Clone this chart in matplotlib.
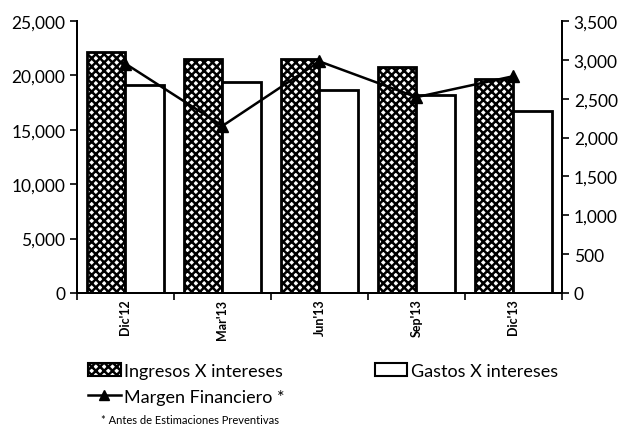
import matplotlib
matplotlib.use("Agg")
import matplotlib.pyplot as plt
import numpy as np
from matplotlib.patches import Patch
from matplotlib.lines import Line2D
from matplotlib.ticker import FuncFormatter

plt.rcParams["font.family"] = ["Lato", "DejaVu Sans"]
plt.rcParams["hatch.linewidth"] = 1.8

periodos = ["Dic'12", "Mar'13", "Jun'13", "Sep'13", "Dic'13"]
ingresos = [22150, 21500, 21550, 20750, 19650]
gastos = [19150, 19350, 18650, 18200, 16700]
margen = [2950, 2150, 2980, 2520, 2790]

fig = plt.figure(figsize=(6.29, 4.27), dpi=100)
ax = fig.add_axes([0.1224, 0.3115, 0.771, 0.637])
ax2 = ax.twinx()

x = np.arange(len(periodos))
w = 0.4
ax.bar(x - w / 2, ingresos, w, facecolor="white", edgecolor="black",
       hatch="xxxx", linewidth=2, zorder=2)
ax.bar(x + w / 2, gastos, w, facecolor="white", edgecolor="black",
       linewidth=2, zorder=2)
ax2.plot(x, margen, color="black", linewidth=1.8, marker="^",
         markersize=9, zorder=3)

ax.set_xlim(-0.5, len(periodos) - 0.5)
ax.set_ylim(0, 25000)
ax2.set_ylim(0, 3500)
ax.set_yticks(np.arange(0, 25001, 5000))
ax2.set_yticks(np.arange(0, 3501, 500))
fmt = FuncFormatter(lambda v, p: f"{v:,.0f}")
ax.yaxis.set_major_formatter(fmt)
ax2.yaxis.set_major_formatter(fmt)

ax.set_xticks(x)
ax.set_xticklabels(periodos, rotation=90, fontsize=9, fontweight="bold")
ax.set_xticks(np.arange(-0.5, len(periodos), 1), minor=True)
ax.tick_params(axis="x", which="major", length=0, pad=4)
ax.tick_params(axis="x", which="minor", length=5, width=1.2, direction="out")
ax.tick_params(axis="y", labelsize=12.5, length=5, width=1.2, direction="out")
ax2.tick_params(axis="y", labelsize=12.5, length=5, width=1.2, direction="out")

for a in (ax, ax2):
    a.spines["top"].set_visible(False)
    for s in ("left", "right", "bottom"):
        a.spines[s].set_linewidth(1.4)

handles = [
    Patch(facecolor="white", edgecolor="black", hatch="xxxx", linewidth=1.5,
          label="Ingresos X intereses"),
    Line2D([], [], color="black", marker="^", markersize=7, linewidth=1.8,
           label="Margen Financiero *"),
    Patch(facecolor="white", edgecolor="black", linewidth=1.5,
          label="Gastos X intereses"),
]
fig.legend(handles=handles, loc="upper left", bbox_to_anchor=(0.14, 0.148),
           ncol=2, frameon=False, fontsize=13, handlelength=1.8,
           handletextpad=0.2, columnspacing=5.0, labelspacing=0.55,
           borderaxespad=0, borderpad=0)
fig.text(0.16, 0.008, "* Antes de Estimaciones Preventivas", fontsize=8)

fig.savefig("out.png", dpi=100)
